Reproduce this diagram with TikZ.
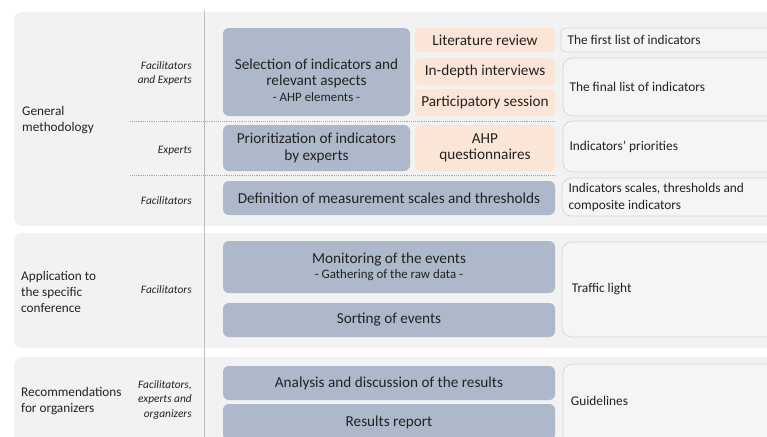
\documentclass[tikz,border=0pt]{standalone}
\usepackage{fontspec}
\setmainfont{Carlito}
\usetikzlibrary{positioning}
\definecolor{panelgray}{HTML}{F2F2F2}
\definecolor{boxblue}{HTML}{ADB9CA}
\definecolor{boxpeach}{HTML}{FBE5D6}
\definecolor{outfill}{HTML}{F5F5F5}
\definecolor{outline}{HTML}{D3D3D3}
\definecolor{sepgray}{HTML}{A6A6A6}
\definecolor{divgray}{HTML}{BFBFBF}
\definecolor{ink}{HTML}{222222}

\begin{document}
\begin{tikzpicture}[x=0.03cm, y=-0.03cm,
    dims/.style 2 args={minimum width=#1*0.03cm, minimum height=#2*0.03cm},
    panel/.style={fill=panelgray, rounded corners=7pt},
    bluebox/.style={fill=boxblue, rounded corners=5pt, inner sep=0pt, align=center, text=ink, font=\fontsize{13}{14}\selectfont},
    peachbox/.style={fill=boxpeach, rounded corners=4pt, inner sep=0pt, align=center, text=ink, font=\fontsize{13}{14}\selectfont},
    outbox/.style={draw=outline, fill=outfill, rounded corners=8pt, line width=0.6pt, inner sep=0pt},
    outtext/.style={inner sep=0pt, align=left, text=ink, font=\fontsize{11.4}{14.5}\selectfont},
    who/.style={anchor=east, inner sep=0pt, align=right, text=ink, font=\itshape\fontsize{9.7}{12}\selectfont},
    phase/.style={anchor=west, inner sep=0pt, align=left, text=ink, font=\fontsize{11.3}{13.7}\selectfont},
    sep/.style={draw=sepgray, densely dotted, line width=0.6pt}]
  \clip (0,0) rectangle (767,436);

  % three phases
  \fill[panel] (14,12) rectangle (800,226);
  \fill[panel] (14,233) rectangle (800,348);
  \fill[panel] (14,357) rectangle (800,470);
  \coordinate (divTop) at (204,10);
  \coordinate (divBot) at (204,440);
  \draw[divgray, line width=0.7pt] (divTop) -- (divBot);
  \coordinate (sepA) at (130,121);
  \coordinate (sepB) at (130,175);
  \draw[sep] (sepA) -- ++(425,0);
  \draw[sep] (sepB) -- ++(425,0);

  % phase labels
  \node[phase] (gen) at (22,120) {General\\methodology};
  \node[phase] (app) at (21,292) {Application to\\the specific\\conference};
  \node[phase] (rec) at (21,401) {Recommendations\\for organizers};

  % actors
  \node[who] (whoA) at (192,73) {Facilitators\\and Experts};
  \node[who] (whoB) at (192,151) {Experts};
  \node[who] (whoC) at (192,201) {Facilitators};
  \node[who] (whoD) at (192,290) {Facilitators};
  \node[who] (whoE) at (192,400) {Facilitators,\\experts and\\organizers};

  % activities
  \node[bluebox, dims={187}{88}] (select) at (316.5,72) {};
  \node[bluebox, fill=none] (selectT) at (316.5,80) {Selection of indicators and\\relevant aspects\\[-1pt]{\fontsize{11}{12}\selectfont - AHP elements -}};
  \node[bluebox, dims={187}{46}] (prior) at (316.5,148) {Prioritization of indicators\\by experts};
  \node[bluebox, dims={332}{34}] (define) at (389,198) {Definition of measurement scales and thresholds};
  \node[bluebox, dims={332}{52}] (monitor) at (389,267) {Monitoring of the events\\[-1pt]{\fontsize{11}{12}\selectfont - Gathering of the raw data -}};
  \node[bluebox, dims={332}{34}] (sort) at (389,320) {Sorting of events};
  \node[bluebox, dims={332}{34}] (analysis) at (389,383) {Analysis and discussion of the results};
  \node[bluebox, dims={332}{36}] (report) at (389,422) {Results report};

  % tools
  \node[peachbox, dims={140}{24}] (lit) at (485,40) {Literature review};
  \node[peachbox, dims={140}{27}] (depth) at (485,71.5) {In-depth interviews};
  \node[peachbox, dims={140}{27}] (part) at (485,102.5) {Participatory session};
  \node[peachbox, dims={140}{46}] (ahp) at (485,148) {AHP\\questionnaires};

  % outputs
  \node[outbox, rounded corners=4pt, dims={239}{24}] (first) at (680.5,40) {};
  \node[outbox, dims={237}{58}] (final) at (681.5,87) {};
  \node[outbox, dims={237}{51}] (prio) at (681.5,146.5) {};
  \node[outbox, dims={238}{38}] (scales) at (681,197) {};
  \node[outbox, dims={238}{95}] (traffic) at (681,289.5) {};
  \node[outbox, dims={237}{96}] (guide) at (681.5,412) {};
  \node[outtext, right=0.2cm of first.west] (firstT) {The first list of indicators};
  \node[outtext, right=0.2cm of final.west] (finalT) {The final list of indicators};
  \node[outtext, right=0.2cm of prio.west] (prioT) {Indicators’ priorities};
  \node[outtext, right=0.2cm of scales.west] (scalesT) {Indicators scales, thresholds and\\composite indicators};
  \node[outtext, right=0.3cm of traffic.west] (trafficT) {Traffic light};
  \node[outtext, right=0.24cm of guide.west, yshift=0.33cm] (guideT) {Guidelines};
\end{tikzpicture}
\end{document}
